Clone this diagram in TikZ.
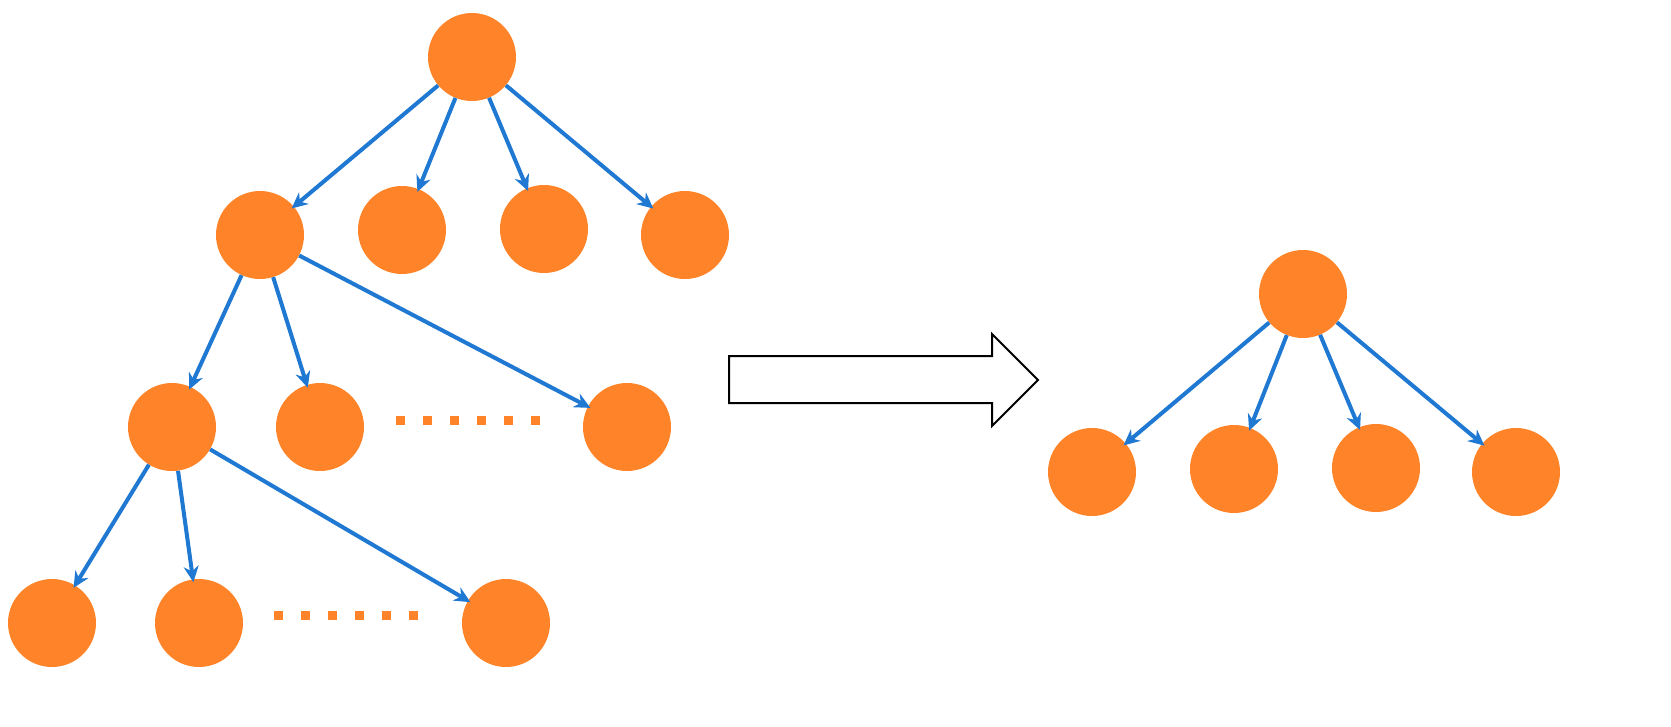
\documentclass[tikz,border=0pt]{standalone}
\usetikzlibrary{arrows.meta}
\begin{document}
\begin{tikzpicture}[x=1pt,y=-1pt,
 n/.style={circle,fill={rgb,255:red,255;green,132;blue,41},minimum size=88pt,inner sep=0pt},
 e/.style={draw={rgb,255:red,31;green,120;blue,209},line width=4pt,-{Stealth[length=16pt,width=15pt]},shorten >=-3pt},
 dots/.style={draw={rgb,255:red,255;green,132;blue,41},line width=9pt,dash pattern=on 9pt off 18pt}]
\useasboundingbox (0,0) rectangle (1671,726);
\node[n] (r) at (472,57) {};
\node[n] (a) at (260,235) {};
\node[n] (b) at (402,230) {};
\node[n] (c) at (544,229) {};
\node[n] (d) at (685,235) {};
\node[n] (e1) at (172,427) {};
\node[n] (f) at (320,427) {};
\node[n] (g) at (627,427) {};
\node[n] (h) at (52,623) {};
\node[n] (i) at (199,623) {};
\node[n] (j) at (506,623) {};
\node[n] (R) at (1303,294) {};
\node[n] (R1) at (1092,472) {};
\node[n] (R2) at (1234,469) {};
\node[n] (R3) at (1376,468) {};
\node[n] (R4) at (1516,472) {};
\foreach \s/\t in {r/a,r/b,r/c,r/d,a/e1,a/f,a/g,e1/h,e1/i,e1/j,R/R1,R/R2,R/R3,R/R4}
 \draw[e] (\s) -- (\t);
\coordinate (d1s) at (396,420); \coordinate (d1e) at (550,420);
\coordinate (d2s) at (274,615); \coordinate (d2e) at (430,615);
\draw[dots] (d1s) -- (d1e);
\draw[dots] (d2s) -- (d2e);
\draw[black,line width=2pt,fill=white,line join=miter] (729,356) -- (992,356) -- (992,334) -- (1038,380) -- (992,426) -- (992,403) -- (729,403) -- cycle;
\end{tikzpicture}
\end{document}
